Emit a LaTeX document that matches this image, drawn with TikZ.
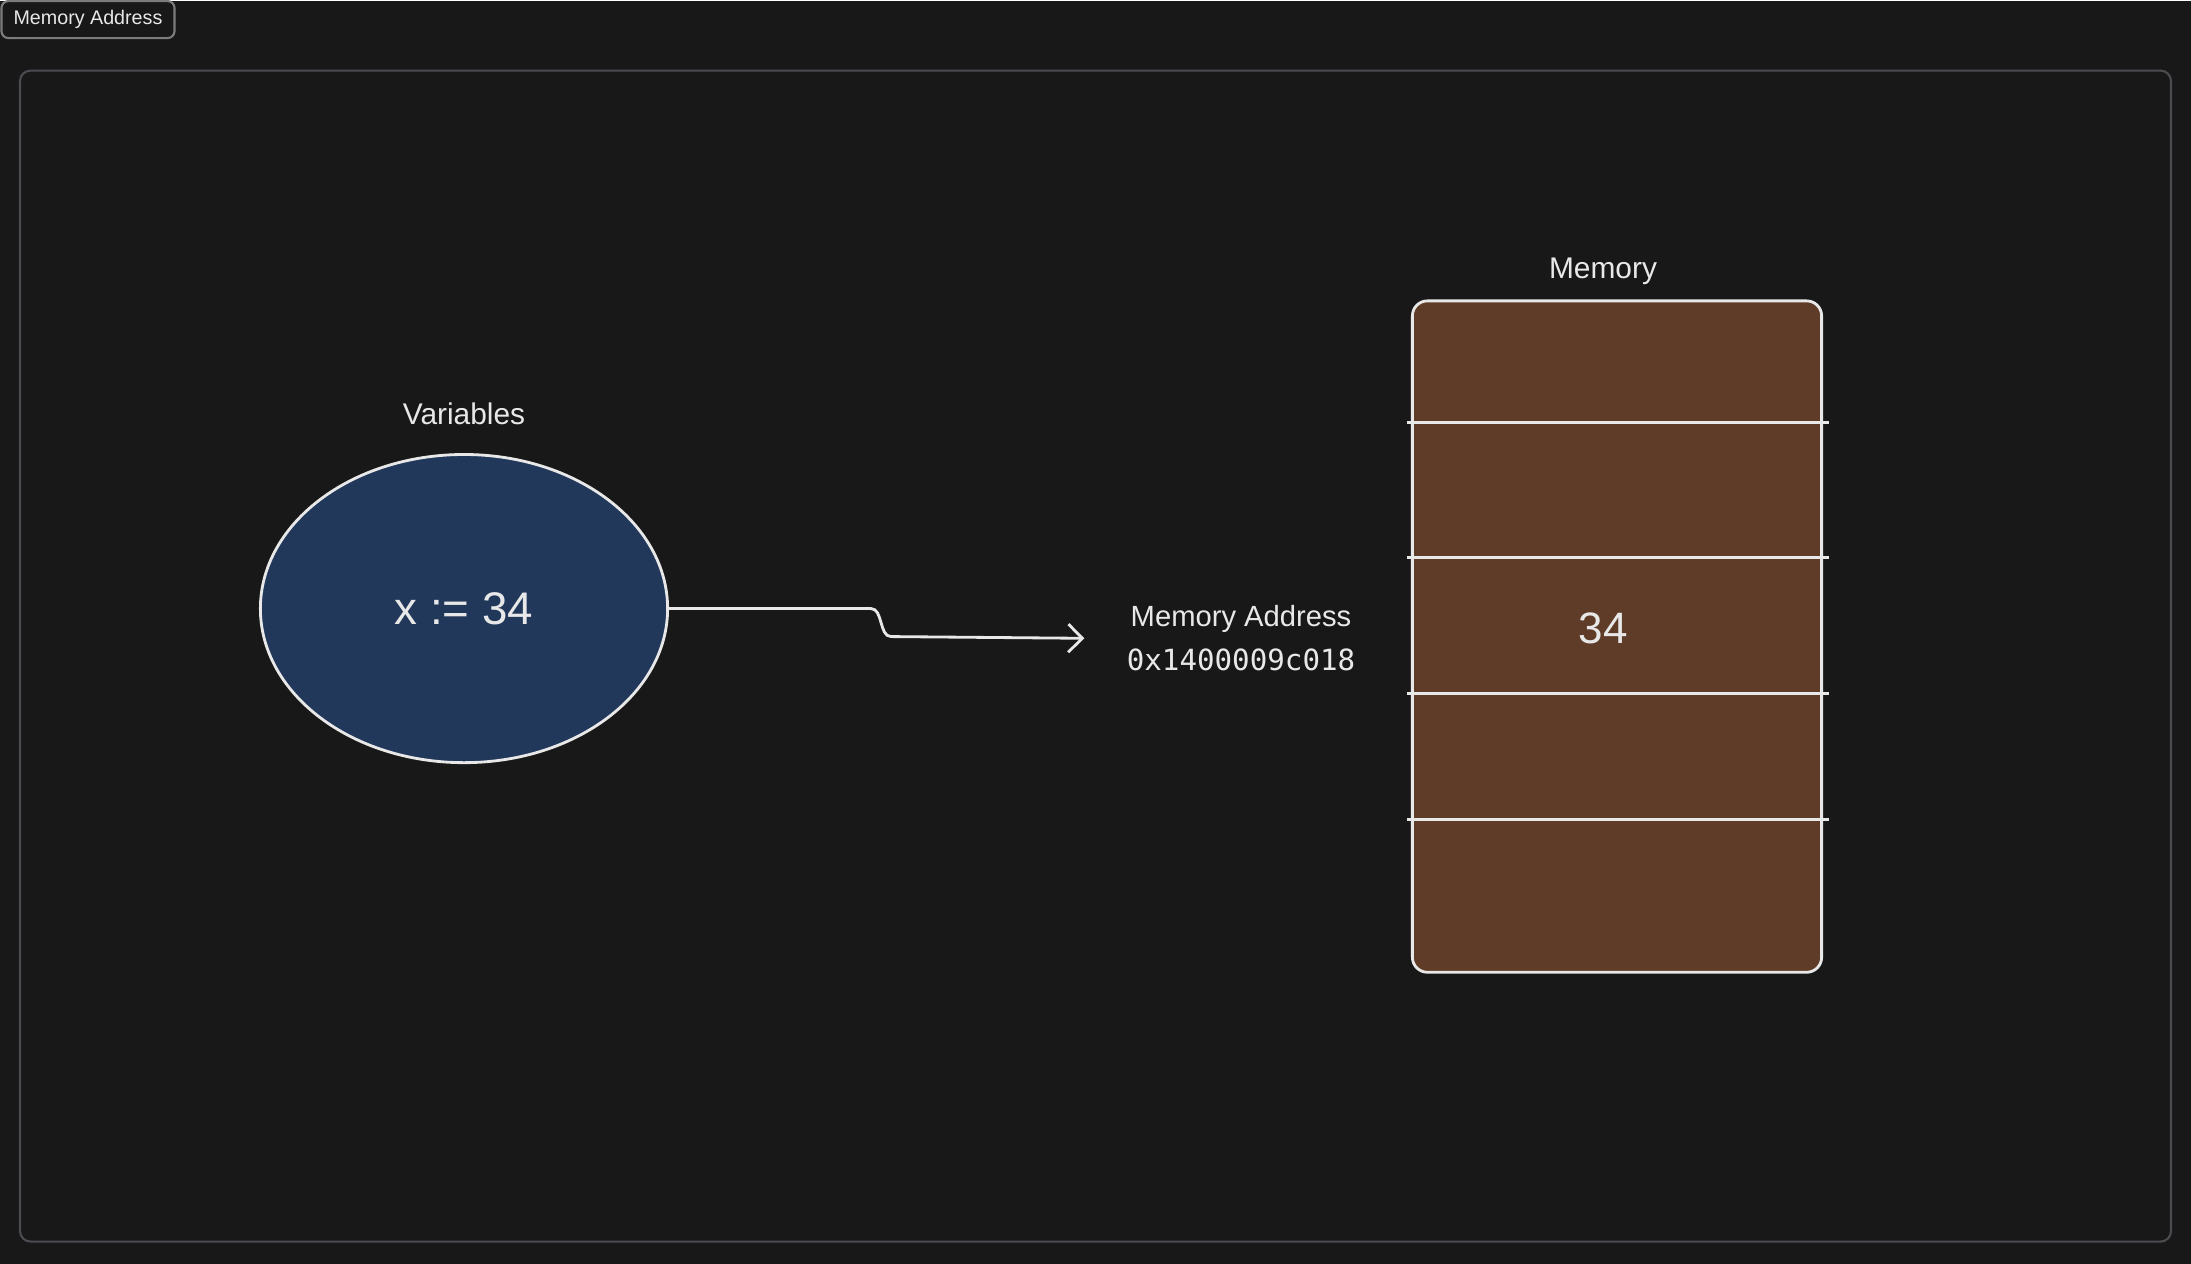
\documentclass[tikz,border=0pt]{standalone}
\usepackage{fontspec}
\setmainfont{Liberation Sans}
\setmonofont{DejaVu Sans Mono}
\usetikzlibrary{arrows.meta,positioning,shapes.geometric}

\definecolor{canvas}{HTML}{181818}
\definecolor{framegray}{HTML}{4A4C50}
\definecolor{tabgray}{HTML}{7C7C7C}
\definecolor{inkwhite}{HTML}{E8E8E8}
\definecolor{varblue}{HTML}{22385A}
\definecolor{membrown}{HTML}{5E3C28}

\begin{document}
\begin{tikzpicture}[x=0.01cm, y=-0.01cm,
    every node/.style={text=inkwhite},
    caption/.style={font=\fontsize{8.5}{10}\selectfont},
    sketch/.style={draw=inkwhite, line width=0.8pt}]

    % page and frame
    \fill[canvas] (0,0) rectangle (2191,1263);
    \draw[framegray, line width=0.6pt, rounded corners=3pt] (20,70) rectangle (2171,1241);
    \node[draw=tabgray, line width=0.6pt, rounded corners=2pt, fill=canvas,
          minimum width=1.73cm, minimum height=0.37cm, inner sep=0pt,
          font=\fontsize{5.6}{6}\selectfont] (tab) at (88,19) {Memory Address};

    % variable
    \node[ellipse, sketch, fill=varblue, minimum width=4.07cm, minimum height=3.08cm,
          font=\fontsize{13}{15}\selectfont] (var) at (464,608) {x := 34};
    \node[caption, above=0.16cm of var] (varlabel) {Variables};

    % memory block
    \node[sketch, fill=membrown, rounded corners=0.15cm,
          minimum width=4.09cm, minimum height=6.71cm] (mem) at (1617,636) {};
    \node[caption, above=0.02cm of mem, xshift=-0.14cm] (memlabel) {Memory};
    \foreach \row in {422,557,693,819}
        \draw[sketch, shorten <=-0.04cm, shorten >=-0.06cm] (mem.west |- 0,\row) -- (mem.east |- 0,\row);
    \node[font=\fontsize{12.5}{15}\selectfont] (cell) at (1603,628) {34};

    % address
    \node[caption, align=center, font=\fontsize{8.3}{12.5}\selectfont] (addr) at (1241,638)
        {Memory Address\\{\ttfamily 0x1400009c018}};

    \draw[sketch, -{Straight Barb[length=4pt, width=8pt]}, shorten >=0.30cm]
        (var.east) -- ++(202,0) .. controls +(12,0) and +(-12,0) .. ++(20,28) -- (addr.west);
\end{tikzpicture}
\end{document}
